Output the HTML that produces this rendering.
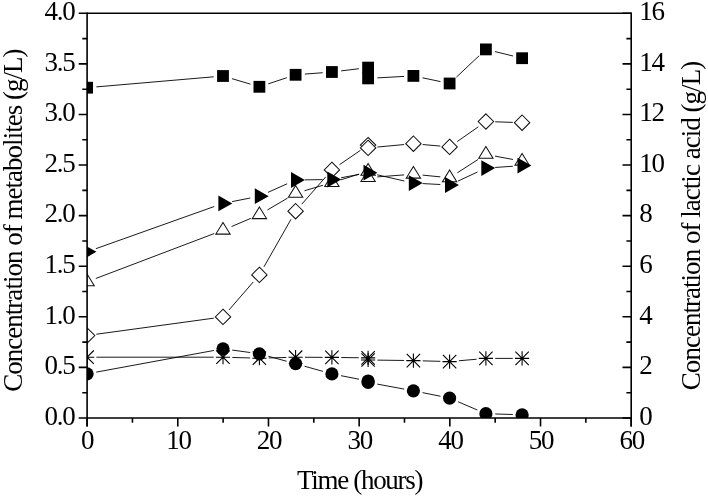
<!DOCTYPE html>
<html><head><meta charset="utf-8"><title>chart</title>
<style>html,body{margin:0;padding:0;background:#fff}body{width:708px;height:497px;overflow:hidden;font-family:"Liberation Serif",serif}</style>
</head><body>
<svg width="708" height="497" viewBox="0 0 708 497" style="display:block;will-change:transform">
<rect width="708" height="497" fill="#fff"/>
<defs><clipPath id="c"><rect x="87.1" y="13.3" width="544.1" height="404.7"/></clipPath></defs>
<g clip-path="url(#c)">
<g stroke="#000" stroke-width="0.9" fill="none">
<line x1="96.37" y1="86.90" x2="213.73" y2="76.80"/>
<line x1="231.92" y1="78.65" x2="250.48" y2="84.15"/>
<line x1="268.23" y1="83.87" x2="286.77" y2="77.73"/>
<line x1="304.87" y1="74.08" x2="322.63" y2="72.72"/>
<line x1="341.13" y1="70.88" x2="358.87" y2="68.72"/>
<line x1="377.39" y1="77.89" x2="404.11" y2="76.41"/>
<line x1="422.50" y1="77.81" x2="440.50" y2="81.59"/>
<line x1="456.38" y1="77.13" x2="479.12" y2="55.77"/>
<line x1="494.94" y1="51.60" x2="513.06" y2="56.00"/>
</g>
<rect x="81.20" y="81.80" width="11.80" height="11.80" fill="#000"/>
<rect x="217.10" y="70.10" width="11.80" height="11.80" fill="#000"/>
<rect x="253.50" y="80.90" width="11.80" height="11.80" fill="#000"/>
<rect x="289.70" y="68.90" width="11.80" height="11.80" fill="#000"/>
<rect x="326.00" y="66.10" width="11.80" height="11.80" fill="#000"/>
<rect x="362.20" y="61.70" width="11.80" height="11.80" fill="#000"/>
<rect x="362.20" y="72.50" width="11.80" height="11.80" fill="#000"/>
<rect x="407.50" y="70.00" width="11.80" height="11.80" fill="#000"/>
<rect x="443.70" y="77.60" width="11.80" height="11.80" fill="#000"/>
<rect x="480.00" y="43.50" width="11.80" height="11.80" fill="#000"/>
<rect x="516.20" y="52.30" width="11.80" height="11.80" fill="#000"/>
<g stroke="#000" stroke-width="0.9" fill="none">
<line x1="96.25" y1="372.12" x2="213.85" y2="350.48"/>
<line x1="232.21" y1="350.07" x2="250.19" y2="352.53"/>
<line x1="268.37" y1="356.25" x2="286.63" y2="361.25"/>
<line x1="304.55" y1="366.22" x2="322.95" y2="371.38"/>
<line x1="341.03" y1="375.69" x2="358.97" y2="379.21"/>
<line x1="377.24" y1="384.10" x2="404.26" y2="389.10"/>
<line x1="422.52" y1="392.64" x2="440.48" y2="396.26"/>
<line x1="458.14" y1="401.77" x2="477.36" y2="410.03"/>
<line x1="495.20" y1="413.98" x2="512.80" y2="414.52"/>
</g>
<circle cx="87.10" cy="373.80" r="6.6" fill="#000"/>
<circle cx="223.00" cy="348.80" r="6.6" fill="#000"/>
<circle cx="259.40" cy="353.80" r="6.6" fill="#000"/>
<circle cx="295.60" cy="363.70" r="6.6" fill="#000"/>
<circle cx="331.90" cy="373.90" r="6.6" fill="#000"/>
<circle cx="368.10" cy="381.00" r="6.6" fill="#000"/>
<circle cx="368.10" cy="382.40" r="6.6" fill="#000"/>
<circle cx="413.40" cy="390.80" r="6.6" fill="#000"/>
<circle cx="449.60" cy="398.10" r="6.6" fill="#000"/>
<circle cx="485.90" cy="413.70" r="6.6" fill="#000"/>
<circle cx="522.10" cy="414.80" r="6.6" fill="#000"/>
<g stroke="#000" stroke-width="0.9" fill="none">
<line x1="96.31" y1="334.24" x2="213.79" y2="318.16"/>
<line x1="229.09" y1="309.87" x2="253.31" y2="281.93"/>
<line x1="263.99" y1="266.81" x2="291.01" y2="219.29"/>
<line x1="301.74" y1="204.21" x2="325.76" y2="176.89"/>
<line x1="339.57" y1="164.64" x2="360.43" y2="150.36"/>
<line x1="377.36" y1="147.04" x2="404.14" y2="144.56"/>
<line x1="422.66" y1="144.52" x2="440.34" y2="146.08"/>
<line x1="457.22" y1="141.57" x2="478.28" y2="126.83"/>
<line x1="495.19" y1="121.81" x2="512.81" y2="122.39"/>
</g>
<path d="M87.10 327.80L94.80 335.50L87.10 343.20L79.40 335.50Z" fill="#fff" stroke="#111" stroke-width="1.05"/>
<path d="M223.00 309.20L230.70 316.90L223.00 324.60L215.30 316.90Z" fill="#fff" stroke="#111" stroke-width="1.05"/>
<path d="M259.40 267.20L267.10 274.90L259.40 282.60L251.70 274.90Z" fill="#fff" stroke="#111" stroke-width="1.05"/>
<path d="M295.60 203.50L303.30 211.20L295.60 218.90L287.90 211.20Z" fill="#fff" stroke="#111" stroke-width="1.05"/>
<path d="M331.90 162.20L339.60 169.90L331.90 177.60L324.20 169.90Z" fill="#fff" stroke="#111" stroke-width="1.05"/>
<path d="M368.10 137.40L375.80 145.10L368.10 152.80L360.40 145.10Z" fill="#fff" stroke="#111" stroke-width="1.05"/>
<path d="M368.10 140.20L375.80 147.90L368.10 155.60L360.40 147.90Z" fill="#fff" stroke="#111" stroke-width="1.05"/>
<path d="M413.40 136.00L421.10 143.70L413.40 151.40L405.70 143.70Z" fill="#fff" stroke="#111" stroke-width="1.05"/>
<path d="M449.60 139.20L457.30 146.90L449.60 154.60L441.90 146.90Z" fill="#fff" stroke="#111" stroke-width="1.05"/>
<path d="M485.90 113.80L493.60 121.50L485.90 129.20L478.20 121.50Z" fill="#fff" stroke="#111" stroke-width="1.05"/>
<path d="M522.10 115.00L529.80 122.70L522.10 130.40L514.40 122.70Z" fill="#fff" stroke="#111" stroke-width="1.05"/>
<g stroke="#000" stroke-width="0.9" fill="none">
<line x1="95.79" y1="278.50" x2="214.31" y2="233.50"/>
<line x1="231.56" y1="226.56" x2="250.84" y2="218.34"/>
<line x1="267.42" y1="209.98" x2="287.58" y2="198.12"/>
<line x1="304.51" y1="190.75" x2="322.99" y2="185.25"/>
<line x1="340.78" y1="179.83" x2="359.22" y2="174.07"/>
<line x1="377.37" y1="176.90" x2="404.13" y2="174.90"/>
<line x1="422.65" y1="175.12" x2="440.35" y2="176.88"/>
<line x1="457.42" y1="172.76" x2="478.08" y2="159.44"/>
<line x1="495.04" y1="156.12" x2="512.96" y2="159.48"/>
</g>
<path d="M87.10 274.00L94.25 285.70L79.95 285.70Z" fill="#fff" stroke="#111" stroke-width="1.05"/>
<path d="M223.00 222.40L230.15 234.10L215.85 234.10Z" fill="#fff" stroke="#111" stroke-width="1.05"/>
<path d="M259.40 206.90L266.55 218.60L252.25 218.60Z" fill="#fff" stroke="#111" stroke-width="1.05"/>
<path d="M295.60 185.60L302.75 197.30L288.45 197.30Z" fill="#fff" stroke="#111" stroke-width="1.05"/>
<path d="M331.90 174.80L339.05 186.50L324.75 186.50Z" fill="#fff" stroke="#111" stroke-width="1.05"/>
<path d="M368.10 163.50L375.25 175.20L360.95 175.20Z" fill="#fff" stroke="#111" stroke-width="1.05"/>
<path d="M368.10 169.80L375.25 181.50L360.95 181.50Z" fill="#fff" stroke="#111" stroke-width="1.05"/>
<path d="M413.40 166.40L420.55 178.10L406.25 178.10Z" fill="#fff" stroke="#111" stroke-width="1.05"/>
<path d="M449.60 170.00L456.75 181.70L442.45 181.70Z" fill="#fff" stroke="#111" stroke-width="1.05"/>
<path d="M485.90 146.60L493.05 158.30L478.75 158.30Z" fill="#fff" stroke="#111" stroke-width="1.05"/>
<path d="M522.10 153.40L529.25 165.10L514.95 165.10Z" fill="#fff" stroke="#111" stroke-width="1.05"/>
<g stroke="#000" stroke-width="0.9" fill="none">
<line x1="96.40" y1="357.20" x2="213.70" y2="357.20"/>
<line x1="232.30" y1="357.46" x2="250.10" y2="357.94"/>
<line x1="268.70" y1="357.94" x2="286.30" y2="357.46"/>
<line x1="304.90" y1="357.25" x2="322.60" y2="357.35"/>
<line x1="341.20" y1="357.53" x2="358.80" y2="357.77"/>
<line x1="377.40" y1="360.12" x2="404.10" y2="360.48"/>
<line x1="422.70" y1="360.86" x2="440.30" y2="361.34"/>
<line x1="458.86" y1="360.78" x2="476.64" y2="359.22"/>
<line x1="495.20" y1="358.40" x2="512.80" y2="358.40"/>
</g>
<path d="M80.00 357.20H94.20M87.10 350.10V364.30M80.40 350.50L93.80 363.90M80.40 363.90L93.80 350.50" fill="none" stroke="#000" stroke-width="1.1"/>
<path d="M215.90 357.20H230.10M223.00 350.10V364.30M216.30 350.50L229.70 363.90M216.30 363.90L229.70 350.50" fill="none" stroke="#000" stroke-width="1.1"/>
<path d="M252.30 358.20H266.50M259.40 351.10V365.30M252.70 351.50L266.10 364.90M252.70 364.90L266.10 351.50" fill="none" stroke="#000" stroke-width="1.1"/>
<path d="M288.50 357.20H302.70M295.60 350.10V364.30M288.90 350.50L302.30 363.90M288.90 363.90L302.30 350.50" fill="none" stroke="#000" stroke-width="1.1"/>
<path d="M324.80 357.40H339.00M331.90 350.30V364.50M325.20 350.70L338.60 364.10M325.20 364.10L338.60 350.70" fill="none" stroke="#000" stroke-width="1.1"/>
<path d="M361.00 357.90H375.20M368.10 350.80V365.00M361.40 351.20L374.80 364.60M361.40 364.60L374.80 351.20" fill="none" stroke="#000" stroke-width="1.1"/>
<path d="M361.00 360.00H375.20M368.10 352.90V367.10M361.40 353.30L374.80 366.70M361.40 366.70L374.80 353.30" fill="none" stroke="#000" stroke-width="1.1"/>
<path d="M406.30 360.60H420.50M413.40 353.50V367.70M406.70 353.90L420.10 367.30M406.70 367.30L420.10 353.90" fill="none" stroke="#000" stroke-width="1.1"/>
<path d="M442.50 361.60H456.70M449.60 354.50V368.70M442.90 354.90L456.30 368.30M442.90 368.30L456.30 354.90" fill="none" stroke="#000" stroke-width="1.1"/>
<path d="M478.80 358.40H493.00M485.90 351.30V365.50M479.20 351.70L492.60 365.10M479.20 365.10L492.60 351.70" fill="none" stroke="#000" stroke-width="1.1"/>
<path d="M515.00 358.40H529.20M522.10 351.30V365.50M515.40 351.70L528.80 365.10M515.40 365.10L528.80 351.70" fill="none" stroke="#000" stroke-width="1.1"/>
<g stroke="#000" stroke-width="0.9" fill="none">
<line x1="95.86" y1="248.68" x2="214.24" y2="206.52"/>
<line x1="232.12" y1="201.60" x2="250.28" y2="198.00"/>
<line x1="267.89" y1="192.40" x2="287.11" y2="183.80"/>
<line x1="304.90" y1="179.87" x2="322.60" y2="179.63"/>
<line x1="341.04" y1="177.78" x2="358.96" y2="174.42"/>
<line x1="377.16" y1="174.78" x2="404.34" y2="181.02"/>
<line x1="422.69" y1="183.59" x2="440.31" y2="184.51"/>
<line x1="458.03" y1="181.07" x2="477.47" y2="172.03"/>
<line x1="495.18" y1="167.46" x2="512.82" y2="166.24"/>
</g>
<path d="M82.50 243.90L96.40 251.80L82.50 259.70Z" fill="#000"/>
<path d="M218.40 195.50L232.30 203.40L218.40 211.30Z" fill="#000"/>
<path d="M254.80 188.30L268.70 196.20L254.80 204.10Z" fill="#000"/>
<path d="M291.00 172.10L304.90 180.00L291.00 187.90Z" fill="#000"/>
<path d="M327.30 171.60L341.20 179.50L327.30 187.40Z" fill="#000"/>
<path d="M363.50 164.80L377.40 172.70L363.50 180.60Z" fill="#000"/>
<path d="M408.80 175.20L422.70 183.10L408.80 191.00Z" fill="#000"/>
<path d="M445.00 177.10L458.90 185.00L445.00 192.90Z" fill="#000"/>
<path d="M481.30 160.20L495.20 168.10L481.30 176.00Z" fill="#000"/>
<path d="M517.50 157.70L531.40 165.60L517.50 173.50Z" fill="#000"/>
</g>
<g stroke="#000" stroke-width="1.6" fill="none" stroke-linecap="butt">
<path d="M87.1 13.3H631.2M87.1 418.0H631.2"/>
<path d="M87.1 12.5V426.5M631.2 12.5V426.5"/>
<path d="M78.69999999999999 418.00H87.1M622.5 418.00H631.2"/>
<path d="M82.3 392.71H87.1M626.4000000000001 392.71H631.2"/>
<path d="M78.69999999999999 367.41H87.1M622.5 367.41H631.2"/>
<path d="M82.3 342.12H87.1M626.4000000000001 342.12H631.2"/>
<path d="M78.69999999999999 316.82H87.1M622.5 316.82H631.2"/>
<path d="M82.3 291.53H87.1M626.4000000000001 291.53H631.2"/>
<path d="M78.69999999999999 266.24H87.1M622.5 266.24H631.2"/>
<path d="M82.3 240.94H87.1M626.4000000000001 240.94H631.2"/>
<path d="M78.69999999999999 215.65H87.1M622.5 215.65H631.2"/>
<path d="M82.3 190.36H87.1M626.4000000000001 190.36H631.2"/>
<path d="M78.69999999999999 165.06H87.1M622.5 165.06H631.2"/>
<path d="M82.3 139.77H87.1M626.4000000000001 139.77H631.2"/>
<path d="M78.69999999999999 114.48H87.1M622.5 114.48H631.2"/>
<path d="M82.3 89.18H87.1M626.4000000000001 89.18H631.2"/>
<path d="M78.69999999999999 63.89H87.1M622.5 63.89H631.2"/>
<path d="M82.3 38.59H87.1M626.4000000000001 38.59H631.2"/>
<path d="M78.69999999999999 13.30H87.1M622.5 13.30H631.2"/>
<path d="M87.10 418.0V426.5"/>
<path d="M132.44 418.0V422.7"/>
<path d="M177.78 418.0V426.5"/>
<path d="M223.12 418.0V422.7"/>
<path d="M268.47 418.0V426.5"/>
<path d="M313.81 418.0V422.7"/>
<path d="M359.15 418.0V426.5"/>
<path d="M404.49 418.0V422.7"/>
<path d="M449.83 418.0V426.5"/>
<path d="M495.18 418.0V422.7"/>
<path d="M540.52 418.0V426.5"/>
<path d="M585.86 418.0V422.7"/>
<path d="M631.20 418.0V426.5"/>
</g>
<g font-family="Liberation Serif, serif" font-size="27px" fill="#000" letter-spacing="-1.2">
<text x="74.6" y="424.70" text-anchor="end">0.0</text>
<text x="639.2" y="424.70">0</text>
<text x="74.6" y="374.11" text-anchor="end">0.5</text>
<text x="639.2" y="374.11">2</text>
<text x="74.6" y="323.52" text-anchor="end">1.0</text>
<text x="639.2" y="323.52">4</text>
<text x="74.6" y="272.94" text-anchor="end">1.5</text>
<text x="639.2" y="272.94">6</text>
<text x="74.6" y="222.35" text-anchor="end">2.0</text>
<text x="639.2" y="222.35">8</text>
<text x="74.6" y="171.76" text-anchor="end">2.5</text>
<text x="639.2" y="171.76">10</text>
<text x="74.6" y="121.18" text-anchor="end">3.0</text>
<text x="639.2" y="121.18">12</text>
<text x="74.6" y="70.59" text-anchor="end">3.5</text>
<text x="639.2" y="70.59">14</text>
<text x="74.6" y="20.00" text-anchor="end">4.0</text>
<text x="639.2" y="20.00">16</text>
<text x="87.25" y="448.8" text-anchor="middle">0</text>
<text x="178.48" y="448.8" text-anchor="middle">10</text>
<text x="269.07" y="448.8" text-anchor="middle">20</text>
<text x="359.75" y="448.8" text-anchor="middle">30</text>
<text x="450.43" y="448.8" text-anchor="middle">40</text>
<text x="541.12" y="448.8" text-anchor="middle">50</text>
<text x="631.80" y="448.8" text-anchor="middle">60</text>
<text x="359.6" y="488.8" text-anchor="middle" letter-spacing="-1.3">Time (hours)</text>
<text transform="translate(21.9 220.6) rotate(-90)" text-anchor="middle" letter-spacing="-0.98">Concentration of metabolites (g/L)</text>
<text transform="translate(700.4 226.0) rotate(-90)" text-anchor="middle" letter-spacing="-0.97">Concentration of lactic acid (g/L)</text>
</g>
</svg>
</body></html>
